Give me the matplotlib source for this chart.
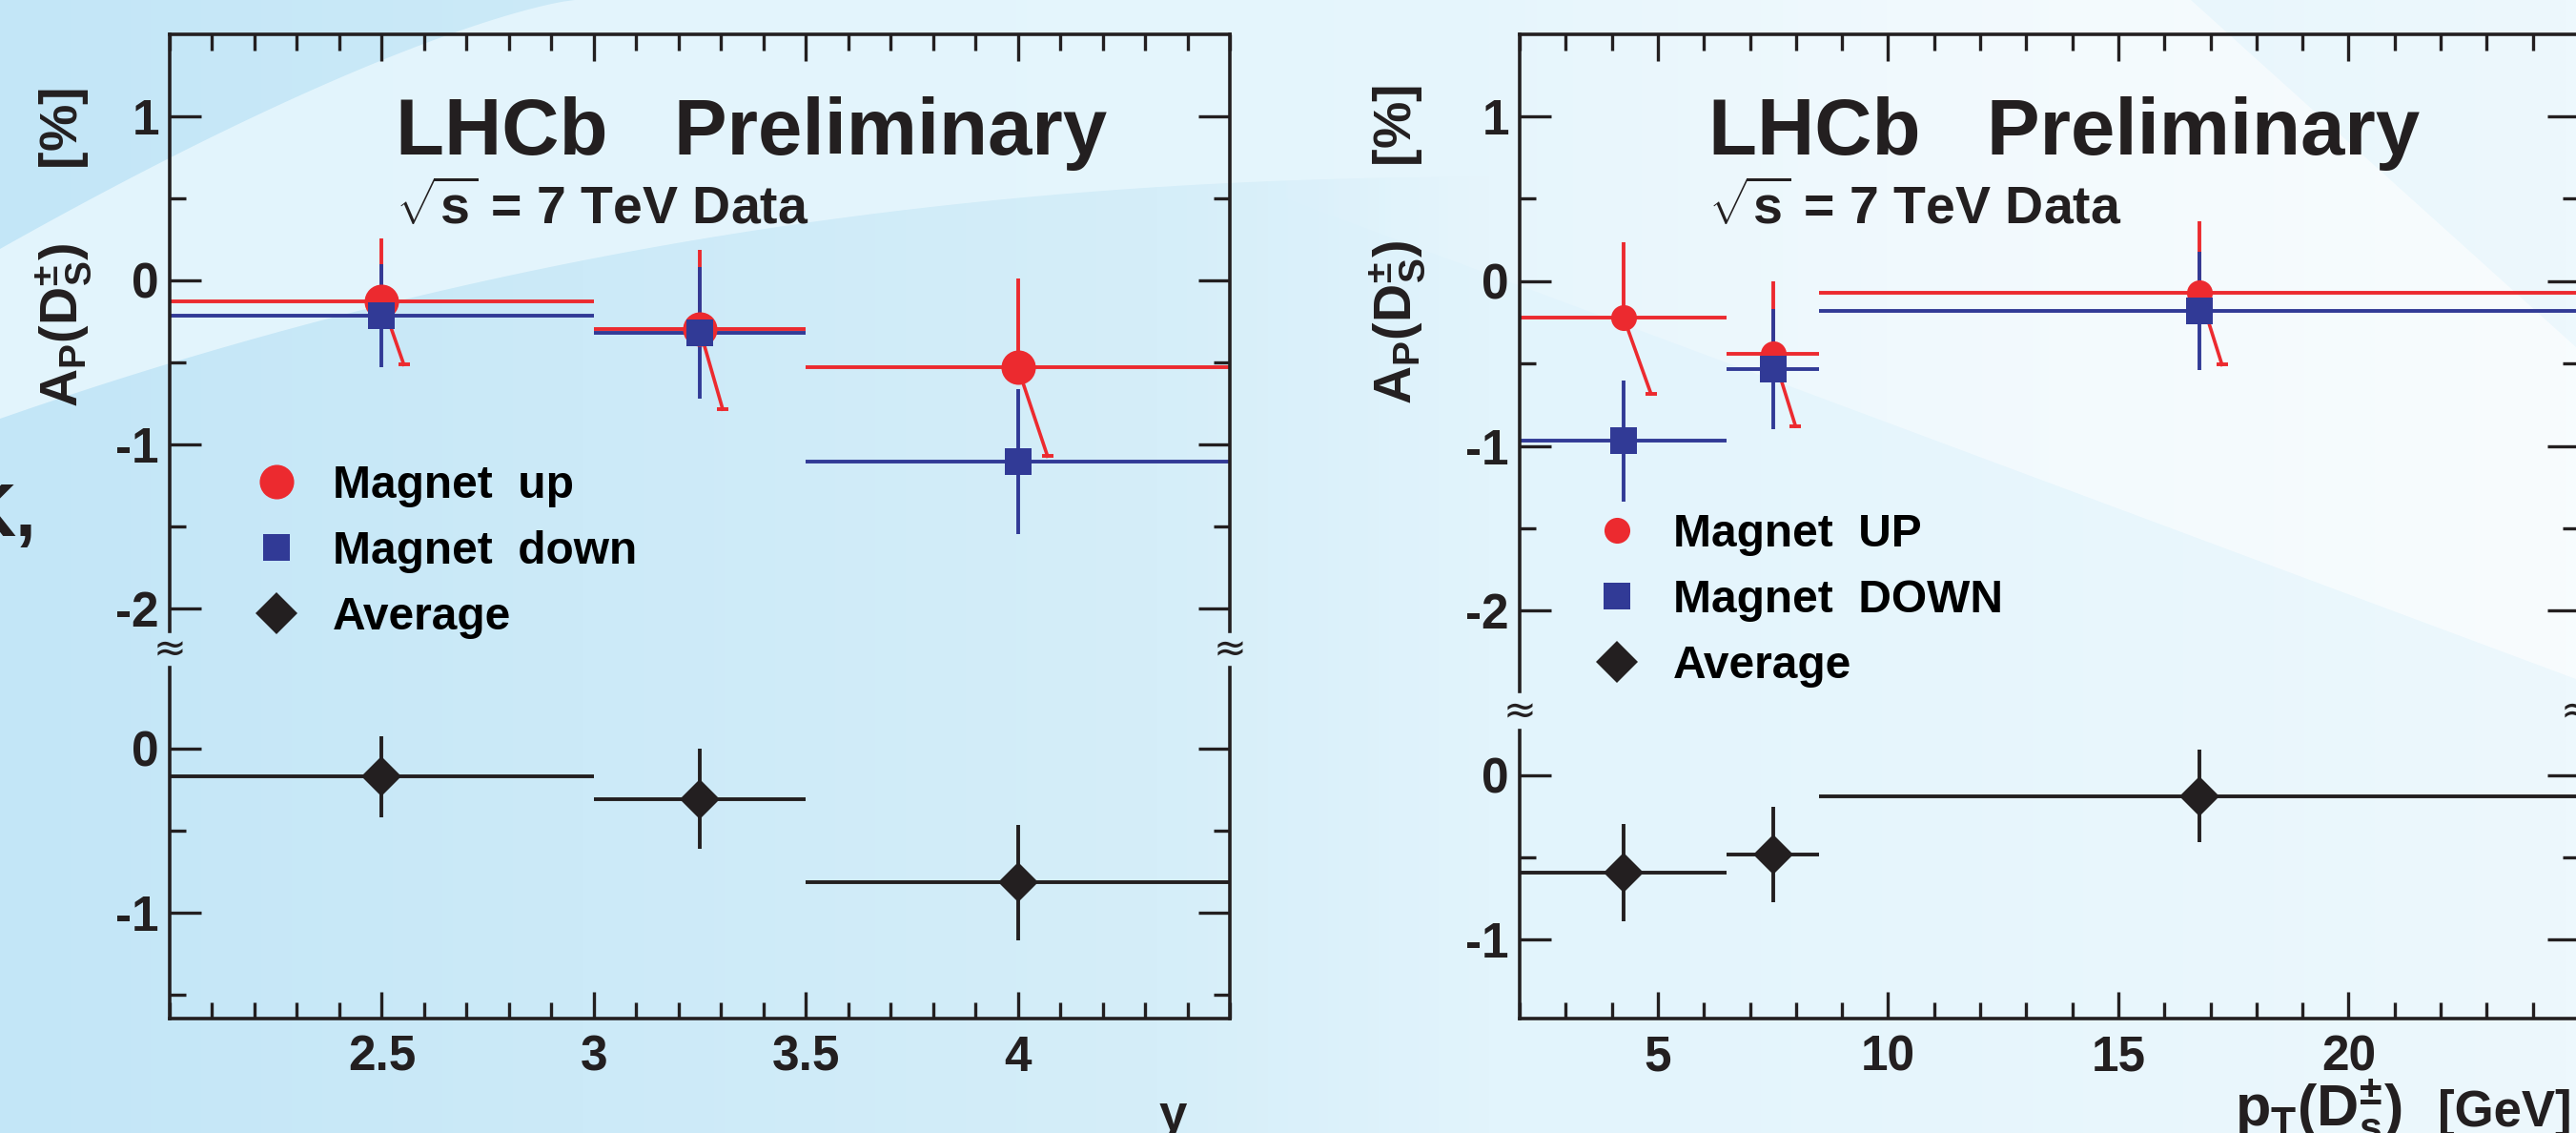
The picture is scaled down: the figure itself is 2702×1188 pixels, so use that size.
import numpy as np
import matplotlib
matplotlib.use('Agg')
import matplotlib.pyplot as plt
from matplotlib.lines import Line2D
from matplotlib.patches import Polygon
from matplotlib.ticker import FixedLocator, MultipleLocator, FormatStrFormatter
from matplotlib.colors import LinearSegmentedColormap

plt.rcParams['font.family'] = ['Liberation Sans', 'DejaVu Sans']
plt.rcParams['font.weight'] = 'bold'
plt.rcParams['axes.unicode_minus'] = False
plt.rcParams['mathtext.fontset'] = 'custom'
plt.rcParams['mathtext.rm'] = 'Liberation Sans:bold'
plt.rcParams['mathtext.bf'] = 'Liberation Sans:bold'
plt.rcParams['mathtext.it'] = 'Liberation Sans:bold'
plt.rcParams['mathtext.sf'] = 'Liberation Sans:bold'

RED = '#ec2a2f'
BLUE = '#313a96'
INK = '#231f20'

# A_P(D_s) vs rapidity y
y_lo = [2.0, 3.0, 3.5]
y_hi = [3.0, 3.5, 4.5]
y_mid = [2.5, 3.25, 4.0]
y_up = [-0.128, -0.300, -0.531]
y_up_err = [0.385, 0.485, 0.54]
y_up_tail = [2.552, 3.304, 4.07]   # x where the skewed lower red bar ends
y_dn = [-0.215, -0.320, -1.105]
y_dn_err = [0.315, 0.40, 0.44]
y_avg = [-0.170, -0.306, -0.816]
y_avg_err = [0.248, 0.305, 0.35]

# A_P(D_s) vs pT
pt_lo = [2.0, 6.5, 8.5]
pt_hi = [6.5, 8.5, 25.0]
pt_mid = [4.26, 7.50, 16.76]
pt_up = [-0.223, -0.44, -0.072]
pt_up_err = [0.46, 0.44, 0.435]
pt_up_tail = [4.85, 7.99, 17.25]
pt_dn = [-0.969, -0.535, -0.182]
pt_dn_err = [0.368, 0.365, 0.358]
pt_avg = [-0.592, -0.485, -0.127]
pt_avg_err = [0.295, 0.29, 0.28]

W, H = 2702, 1188
fig = plt.figure(figsize=(W / 100, H / 100), dpi=100)


def fbox(x0, y0, x1, y1):
    # pixel box (origin top left) -> figure rect
    return [x0 / W, 1 - y1 / H, (x1 - x0) / W, (y1 - y0) / H]


# poster background
bg = fig.add_axes([0, 0, 1, 1], zorder=-5)
bg.axis('off')
cmap = LinearSegmentedColormap.from_list(
    'bg', [(0, '#c3e6f7'), (0.45, '#d5eef9'), (0.58, '#e2f4fc'), (1, '#edf8fd')])
bg.imshow(np.linspace(0, 1, 256)[None, :], cmap=cmap, extent=[0, W, H, 0], aspect='auto')
t = np.linspace(0, 1, 50)
up_x = 603 * t
up_y = 261 * (1 - t) ** 1.3
lo_x = 1600 * t
lo_y = 185 + 254 * (1 - t) ** 2.2
bg.fill(np.r_[up_x, 1600, lo_x[::-1]], np.r_[up_y, 0, lo_y[::-1]],
        color='#e6f6fd', lw=0, alpha=0.9)
# whitish swoosh on the right, fading in from the left
white = LinearSegmentedColormap.from_list('w', [(0, (1, 1, 1, 0)), (0.6, (1, 1, 1, 0.5)),
                                                (1, (1, 1, 1, 0.6))])
im = bg.imshow(np.linspace(0, 1, 256)[None, :], cmap=white, extent=[1300, W, H, 0],
               aspect='auto')
clip = Polygon([[1300, 0], [2298, 0], [2702, 364], [2702, 712], [1300, 190]],
               closed=True, transform=bg.transData)
im.set_clip_path(clip)
bg.set_xlim(0, W)
bg.set_ylim(H, 0)

bg.text(38, 562, 'K,', fontsize=56, ha='right', va='baseline', color=INK)


def make_panel(x0, x1, top_rng, bot_rng, xlim, ylim_top, ylim_bot, major_x, minor_x):
    at = fig.add_axes(fbox(x0, top_rng[0], x1, top_rng[1]))
    ab = fig.add_axes(fbox(x0, bot_rng[0], x1, bot_rng[1]))
    for ax in (at, ab):
        ax.set_facecolor('none')
        ax.set_xlim(*xlim)
        ax.xaxis.set_major_locator(FixedLocator(major_x))
        ax.xaxis.set_major_formatter(FormatStrFormatter('%g'))
        ax.xaxis.set_minor_locator(MultipleLocator(minor_x))
        ax.yaxis.set_major_locator(MultipleLocator(1))
        ax.yaxis.set_minor_locator(MultipleLocator(0.5))
        for s in ax.spines.values():
            s.set_linewidth(2.6)
            s.set_color(INK)
        ax.tick_params(which='both', direction='in', width=2.4, color=INK,
                       labelcolor=INK, labelsize=37, left=True, right=True)
        ax.tick_params(axis='y', which='major', length=24, pad=8)
        ax.tick_params(axis='y', which='minor', length=12)
        ax.tick_params(axis='x', which='major', length=20, pad=12)
        ax.tick_params(axis='x', which='minor', length=12)
    at.set_ylim(*ylim_top)
    ab.set_ylim(*ylim_bot)
    at.spines['bottom'].set_visible(False)
    ab.spines['top'].set_visible(False)
    at.tick_params(axis='x', which='both', top=True, bottom=False, labelbottom=False)
    ab.tick_params(axis='x', which='both', top=False, bottom=True)
    return at, ab


def draw(at, ab, mid, lo, hi, up, up_err, up_tail, dn, dn_err, avg, avg_err, circle_ms):
    xerr = [np.subtract(mid, lo), np.subtract(hi, mid)]
    bar = dict(elinewidth=2.8, capsize=4, capthick=2.8, markeredgewidth=0)
    at.errorbar(mid, up, xerr=xerr, yerr=[np.zeros(len(up)), up_err], fmt='o',
                ms=circle_ms, color=RED, **bar)
    low = np.subtract(up, up_err)
    for xm, ym, xt, yt in zip(mid, up, up_tail, low):
        at.plot([xm, xt], [ym, yt], color=RED, lw=2.6)
    at.plot(up_tail, low, ls='none', marker='_', ms=8, mew=2.8, color=RED)
    at.errorbar(mid, dn, xerr=xerr, yerr=dn_err, fmt='s', ms=20, color=BLUE, **bar)
    ab.errorbar(mid, avg, xerr=xerr, yerr=avg_err, fmt='D', ms=21, color=INK, **bar)


def legend(ax, labels, circle_ms, x_px, top_px):
    handles = [Line2D([], [], ls='none', marker='o', ms=circle_ms, mew=0, color=RED),
               Line2D([], [], ls='none', marker='s', ms=20, mew=0, color=BLUE),
               Line2D([], [], ls='none', marker='D', ms=22, mew=0, color=INK)]
    ax.legend(handles, labels, loc='upper left', bbox_to_anchor=(x_px / W, 1 - top_px / H),
              bbox_transform=fig.transFigure, frameon=False, fontsize=34.5,
              handlelength=1.0, handletextpad=0.73, labelspacing=0.5,
              borderpad=0, borderaxespad=0)


def titles(x_px):
    fig.text(x_px / W, 1 - 162 / H, 'LHCb   Preliminary', fontsize=60,
             ha='left', va='baseline', color=INK)
    fig.text(x_px / W, 1 - 235 / H, r'$\sqrt{\mathbf{s}}$ = 7 TeV Data', fontsize=40,
             ha='left', va='baseline', color=INK)


def breaks(x_list, y_px):
    for x in x_list:
        fig.text(x / W, 1 - y_px / H, '\u2248', fontsize=30, fontweight='normal',
                 family='DejaVu Sans', ha='center', va='center', color=INK)


# left panel: rapidity
at1, ab1 = make_panel(178, 1290, (36, 662), (700, 1068), (2, 4.5),
                      (-2.138, 1.497), (-1.645, 0.494), [2.5, 3, 3.5, 4], 0.1)
draw(at1, ab1, y_mid, y_lo, y_hi, y_up, y_up_err, y_up_tail,
     y_dn, y_dn_err, y_avg, y_avg_err, 26)
legend(at1, ['Magnet  up', 'Magnet  down', 'Average'], 26, 266, 487)
titles(415)
breaks([178, 1290], 681)
fig.text(67 / W, 1 - 92 / H, r'$\mathbf{A_P(D_S^{\pm})}$     [%]', rotation=90,
         ha='center', va='top', fontsize=40, color=INK)
fig.text(1245 / W, 1 - 1185 / H, 'y', ha='right', va='baseline', fontsize=38, color=INK)

# right panel: transverse momentum
at2, ab2 = make_panel(1594, 2705, (36, 725), (766, 1068), (2, 25),
                      (-2.49, 1.497), (-1.48, 0.27), [5, 10, 15, 20], 1)
draw(at2, ab2, pt_mid, pt_lo, pt_hi, pt_up, pt_up_err, pt_up_tail,
     pt_dn, pt_dn_err, pt_avg, pt_avg_err, 19.5)
legend(at2, ['Magnet  UP', 'Magnet  DOWN', 'Average'], 19.5, 1672, 538)
titles(1792)
breaks([1594, 2703], 746)
fig.text(1466 / W, 1 - 89 / H, r'$\mathbf{A_P(D_S^{\pm})}$     [%]', rotation=90,
         ha='center', va='top', fontsize=40, color=INK)
fig.text(2519 / W, 1 - 1181 / H, r'$\mathbf{p_T(D_s^{\pm})}$',
         ha='right', va='baseline', fontsize=44, color=INK)
fig.text(2698 / W, 1 - 1181 / H, '[GeV]',
         ha='right', va='baseline', fontsize=38, color=INK)

fig.savefig('out.png', dpi=100)
